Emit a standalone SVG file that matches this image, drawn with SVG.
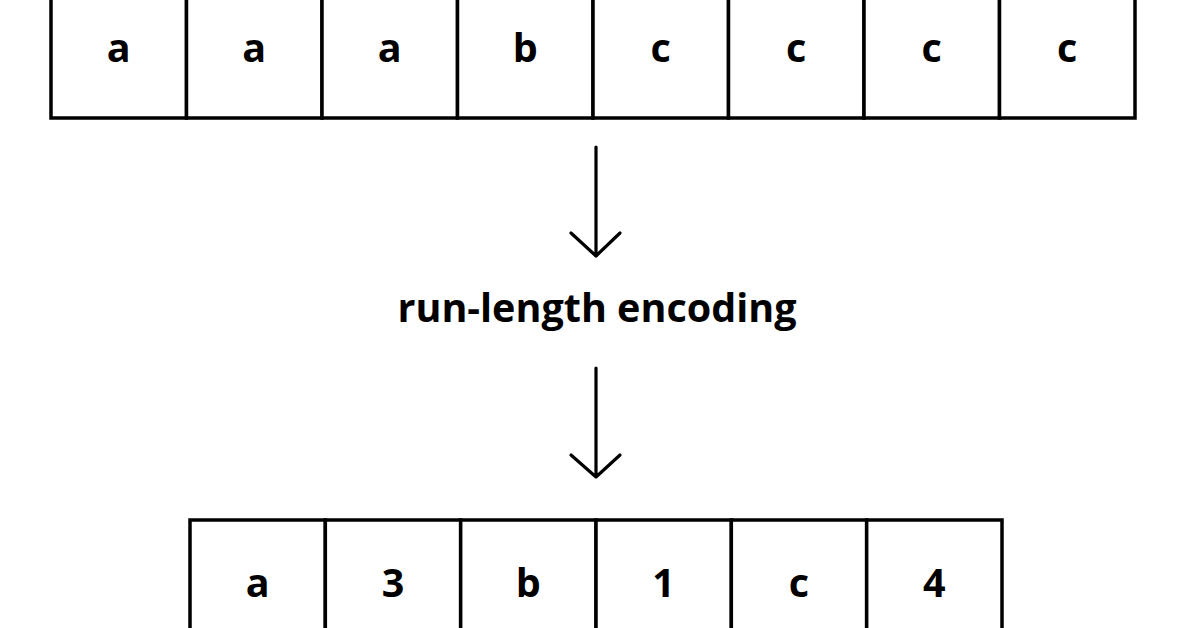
<svg xmlns="http://www.w3.org/2000/svg" width="1196" height="628" viewBox="0 0 1196 628">
<style>
.cell{fill:#fff;stroke:#000;stroke-width:3.5}
.t{font-family:"Open Sans","Liberation Sans",sans-serif;font-weight:bold;font-size:39.5px;fill:#000;text-anchor:middle}
.conn{stroke:#000;stroke-width:3.2;fill:none;stroke-linecap:round;stroke-linejoin:round}
</style>
<rect width="1196" height="628" fill="#fff"/>
<g id="input">
<g id="in1"><rect class="cell" x="51" y="-10" width="135.5" height="128"/><text class="t" x="118.75" y="62">a</text></g>
<g id="in2"><rect class="cell" x="186.5" y="-10" width="135.5" height="128"/><text class="t" x="254.25" y="62">a</text></g>
<g id="in3"><rect class="cell" x="322" y="-10" width="135.5" height="128"/><text class="t" x="389.75" y="62">a</text></g>
<g id="in4"><rect class="cell" x="457.5" y="-10" width="135.5" height="128"/><text class="t" x="525.25" y="62">b</text></g>
<g id="in5"><rect class="cell" x="593" y="-10" width="135.5" height="128"/><text class="t" x="660.75" y="62">c</text></g>
<g id="in6"><rect class="cell" x="728.5" y="-10" width="135.5" height="128"/><text class="t" x="796.25" y="62">c</text></g>
<g id="in7"><rect class="cell" x="864" y="-10" width="135.5" height="128"/><text class="t" x="931.75" y="62">c</text></g>
<g id="in8"><rect class="cell" x="999.5" y="-10" width="135.5" height="128"/><text class="t" x="1067.25" y="62">c</text></g>
</g>
<g id="label"><text class="t" x="597" y="322">run-length encoding</text></g>
<g id="output">
<g id="out1"><rect class="cell" x="190" y="520" width="135.33" height="130"/><text class="t" x="257.67" y="597">a</text></g>
<g id="out2"><rect class="cell" x="325.33" y="520" width="135.33" height="130"/><text class="t" x="393" y="597">3</text></g>
<g id="out3"><rect class="cell" x="460.67" y="520" width="135.33" height="130"/><text class="t" x="528.33" y="597">b</text></g>
<g id="out4"><rect class="cell" x="596" y="520" width="135.33" height="130"/><text class="t" x="663.67" y="597">1</text></g>
<g id="out5"><rect class="cell" x="731.33" y="520" width="135.33" height="130"/><text class="t" x="799" y="597">c</text></g>
<g id="out6"><rect class="cell" x="866.67" y="520" width="135.33" height="130"/><text class="t" x="934.33" y="597">4</text></g>
</g>
<g id="connectors">
<path class="conn" d="M596 147V256M571 233L596 256L620 233"/>
<path class="conn" d="M596 368V477M571 455L596 477L620 455"/>
</g>
</svg>
